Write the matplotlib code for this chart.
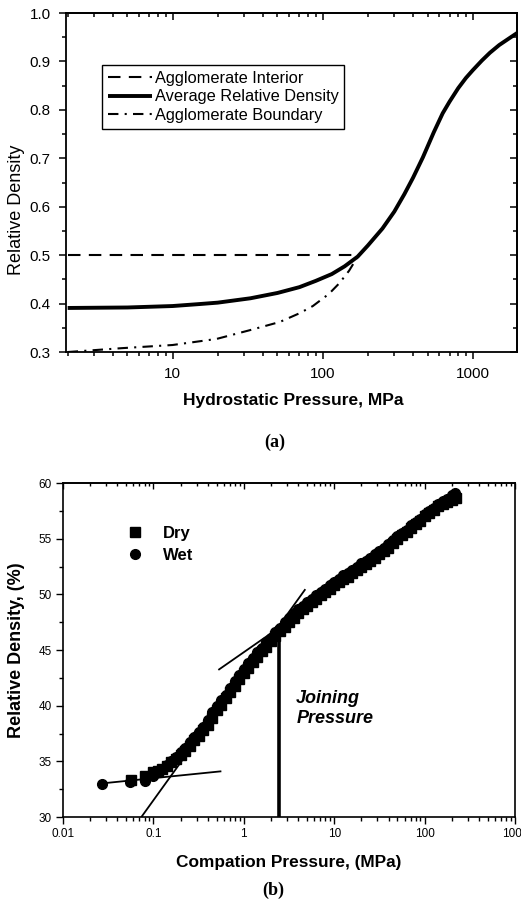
import numpy as np
import matplotlib
matplotlib.use("Agg")
import matplotlib.pyplot as plt
from matplotlib.ticker import LogLocator, MultipleLocator, FixedLocator, FixedFormatter, NullFormatter

plt.rcParams['font.family'] = ['Liberation Sans', 'DejaVu Sans']

# ---- (a) hydrostatic pressure vs relative density ----
avg_p = [2, 5, 10, 15, 20, 33, 50, 70, 90, 115, 140, 171, 200, 250, 300, 350,
         400, 465, 550, 630, 700, 800, 900, 1000, 1150, 1300, 1500, 1750, 2000]
avg_rd = [0.391, 0.392, 0.395, 0.399, 0.402, 0.411, 0.422, 0.434, 0.447, 0.461,
          0.477, 0.497, 0.520, 0.555, 0.590, 0.626, 0.660, 0.702, 0.754, 0.793,
          0.817, 0.845, 0.866, 0.882, 0.902, 0.918, 0.934, 0.948, 0.960]
interior_p = [2, 171]
interior_rd = [0.5, 0.5]
boundary_p = [2, 4.6, 10, 19.6, 32.6, 51.7, 70, 86, 110, 129, 150, 171]
boundary_rd = [0.300, 0.308, 0.3145, 0.327, 0.345, 0.362, 0.380, 0.395, 0.420,
               0.442, 0.468, 0.497]

# ---- (b) compaction pressure vs relative density ----
dry_p = [0.056, 0.08, 0.1, 0.112, 0.126, 0.141, 0.158, 0.178, 0.2, 0.224, 0.251,
         0.282, 0.316, 0.355, 0.398, 0.447, 0.501, 0.562, 0.631, 0.708, 0.794,
         0.891, 1.0, 1.12, 1.26, 1.41, 1.58, 1.78, 2.0, 2.24, 2.51, 2.82, 3.16,
         3.55, 3.98, 4.47, 5.01, 5.62, 6.31, 7.08, 7.94, 8.91, 10, 11.2, 12.6,
         14.1, 15.8, 17.8, 20, 22.4, 25.1, 28.2, 31.6, 35.5, 39.8, 44.7, 50.1,
         56.2, 63.1, 70.8, 79.4, 89.1, 100, 112, 126, 141, 158, 178, 200, 224]
dry_rd = [33.3, 33.7, 34.0, 34.1, 34.3, 34.6, 34.9, 35.2, 35.6, 35.9, 36.4,
          36.9, 37.3, 37.8, 38.3, 38.9, 39.6, 40.1, 40.7, 41.2, 41.8,
          42.4, 42.9, 43.4, 43.9, 44.4, 44.9, 45.3, 45.8, 46.3, 46.7, 47.1, 47.5,
          47.9, 48.3, 48.7, 49.0, 49.3, 49.6, 49.9, 50.2, 50.5, 50.8, 51.1, 51.4,
          51.6, 51.9, 52.2, 52.5, 52.7, 53.0, 53.3, 53.6, 53.9, 54.2, 54.6, 55.0,
          55.3, 55.6, 56.0, 56.3, 56.6, 57.0, 57.3, 57.6, 57.9, 58.1, 58.3, 58.5, 58.7]
wet_p = [0.027, 0.055, 0.08, 0.1, 0.112, 0.126, 0.141, 0.158, 0.178, 0.2, 0.224,
         0.251, 0.282, 0.316, 0.355, 0.398, 0.447, 0.501, 0.562, 0.631, 0.708,
         0.794, 0.891, 1.0, 1.12, 1.26, 1.41, 1.58, 1.78, 2.0, 2.24, 2.51, 2.82,
         3.16, 3.55, 3.98, 4.47, 5.01, 5.62, 6.31, 7.08, 7.94, 8.91, 10, 11.2,
         12.6, 14.1, 15.8, 17.8, 20, 22.4, 25.1, 28.2, 31.6, 35.5, 39.8, 44.7,
         50.1, 56.2, 63.1, 70.8, 79.4, 89.1, 100, 112, 126, 141, 158, 178, 200, 217]
wet_rd = [33.0, 33.15, 33.2, 33.7, 34.0, 34.3, 34.7, 35.0, 35.4, 35.8, 36.2,
          36.7, 37.2, 37.6, 38.1, 38.7, 39.4, 40.0, 40.5, 41.0, 41.6,
          42.2, 42.8, 43.3, 43.8, 44.3, 44.8, 45.2, 45.7, 46.1, 46.6, 47.0, 47.5,
          47.9, 48.3, 48.7, 49.0, 49.3, 49.6, 49.9, 50.2, 50.5, 50.8, 51.1, 51.4,
          51.7, 51.9, 52.2, 52.5, 52.8, 53.0, 53.3, 53.6, 53.9, 54.2, 54.5, 54.9,
          55.2, 55.5, 55.8, 56.2, 56.5, 56.8, 57.2, 57.5, 57.8, 58.1, 58.4, 58.6, 58.9, 59.1]

# tangent lines and joining pressure
flat_p, flat_rd = [0.0255, 0.552], [33.0, 34.1]
steep_p, steep_rd = [0.0736, 4.73], [30.0, 50.4]
upper_p, upper_rd = [0.533, 3.0], [43.26, 47.5]
join_p, join_rd = [2.46, 2.46], [30.0, 46.5]

b_ticks = [0.01, 0.1, 1, 10, 100, 1000]
b_ticklabels = ['0.01', '0.1', '1', '10', '100', '1000']

fig = plt.figure(figsize=(5.21, 9.08), dpi=100)

# ================= (a) =================
ax = fig.add_axes([0.1267, 0.6123, 0.8656, 0.3733])
ax.plot(interior_p, interior_rd, color='black', lw=1.5, ls=(0, (6, 4)),
        label='Agglomerate Interior')
ax.plot(avg_p, avg_rd, color='black', lw=2.8, solid_capstyle='butt',
        solid_joinstyle='round', label='Average Relative Density')
ax.plot(boundary_p, boundary_rd, color='black', lw=1.5, ls=(0, (5, 3, 1, 3)),
        label='Agglomerate Boundary')
ax.set_xscale('log')
ax.set_xlim(1.95, 1970)
ax.set_ylim(0.3, 1.0)
ax.yaxis.set_major_locator(MultipleLocator(0.1))
ax.yaxis.set_minor_locator(MultipleLocator(0.05))
ax.yaxis.set_major_formatter(plt.FuncFormatter(lambda v, p: f'{v:.1f}'))
ax.xaxis.set_major_locator(FixedLocator([10, 100, 1000]))
ax.xaxis.set_major_formatter(FixedFormatter(['10', '100', '1000']))
ax.xaxis.set_minor_locator(LogLocator(base=10, subs=np.arange(2, 10)))
ax.xaxis.set_minor_formatter(NullFormatter())
ax.tick_params(which='both', direction='out', labelsize=11, width=1.1)
ax.tick_params(which='major', length=5, pad=6)
ax.tick_params(which='minor', length=3)
for s in ax.spines.values():
    s.set_linewidth(1.3)
# mirrored inward ticks on top/right
axt = ax.secondary_xaxis('top')
axt.xaxis.set_major_locator(FixedLocator([10, 100, 1000]))
axt.xaxis.set_minor_locator(LogLocator(base=10, subs=np.arange(2, 10)))
axt.tick_params(which='both', direction='in', labeltop=False, width=1.1)
axt.tick_params(which='major', length=5)
axt.tick_params(which='minor', length=3)
axt.xaxis.set_minor_formatter(NullFormatter())
axt.spines['top'].set_linewidth(1.3)
axr = ax.secondary_yaxis('right')
axr.yaxis.set_major_locator(MultipleLocator(0.1))
axr.yaxis.set_minor_locator(MultipleLocator(0.05))
axr.tick_params(which='both', direction='in', labelright=False, width=1.1)
axr.tick_params(which='major', length=5)
axr.tick_params(which='minor', length=3)
axr.spines['right'].set_linewidth(1.3)

ax.set_ylabel('Relative Density', fontsize=13)
ax.yaxis.set_label_coords(-0.091, 0.42)
ax.set_xlabel('Hydrostatic Pressure, MPa', fontsize=12.5, fontweight='bold')
ax.xaxis.set_label_coords(0.503, -0.121)

leg = ax.legend(loc='upper left', bbox_to_anchor=(0.08, 0.847), borderaxespad=0,
                fontsize=11.8, frameon=True, fancybox=False, handlelength=2.7,
                handletextpad=0.15, labelspacing=0.22, borderpad=0.35)
leg.get_frame().set_edgecolor('black')
leg.get_frame().set_linewidth(1.0)
leg.get_frame().set_alpha(1)

fig.text(0.528, 1 - 442 / 908, '(a)', ha='center', va='center', fontsize=13,
         fontweight='bold', family=['Liberation Serif', 'DejaVu Serif'])

# ================= (b) =================
bx = fig.add_axes([0.1209, 0.1002, 0.8676, 0.3678])
bx.plot(dry_p, dry_rd, ls='none', marker='s', ms=6.5, color='black', label='Dry')
bx.plot(wet_p, wet_rd, ls='none', marker='o', ms=7, color='black', label='Wet')
bx.plot(flat_p, flat_rd, color='black', lw=1.3)
bx.plot(steep_p, steep_rd, color='black', lw=1.3)
bx.plot(upper_p, upper_rd, color='black', lw=1.3)
bx.plot(join_p, join_rd, color='black', lw=2.6, solid_capstyle='butt')
bx.set_xscale('log')
bx.set_xlim(0.01, 1000)
bx.set_ylim(30, 60)
bx.yaxis.set_major_locator(MultipleLocator(5))
bx.yaxis.set_minor_locator(MultipleLocator(2.5))
bx.xaxis.set_major_locator(FixedLocator(b_ticks))
bx.xaxis.set_major_formatter(FixedFormatter(b_ticklabels))
bx.xaxis.set_minor_locator(LogLocator(base=10, subs=np.arange(2, 10)))
bx.xaxis.set_minor_formatter(NullFormatter())
bx.tick_params(which='both', direction='out', labelsize=8.5, width=1.0)
bx.tick_params(which='major', length=5, pad=3)
bx.tick_params(which='minor', length=3)
for s in bx.spines.values():
    s.set_linewidth(1.2)
bxt = bx.secondary_xaxis('top')
bxt.xaxis.set_major_locator(FixedLocator(b_ticks))
bxt.xaxis.set_minor_locator(LogLocator(base=10, subs=np.arange(2, 10)))
bxt.xaxis.set_minor_formatter(NullFormatter())
bxt.tick_params(which='both', direction='in', labeltop=False, width=1.0)
bxt.tick_params(which='major', length=4)
bxt.tick_params(which='minor', length=2.5)
bxt.spines['top'].set_linewidth(1.2)

bx.set_ylabel('Relative Density, (%)', fontsize=13, fontweight='bold')
bx.yaxis.set_label_coords(-0.084, 0.5)
bx.set_xlabel('Compation Pressure, (MPa)', fontsize=12.4, fontweight='bold')
bx.xaxis.set_label_coords(0.5, -0.114)

bx.text(3.8, 39.75, 'Joining\nPressure', ha='left', va='center', fontsize=13,
        fontweight='bold', style='italic', linespacing=1.25)

bleg = bx.legend(loc='center left', bbox_to_anchor=(0.126, 0.816), frameon=False,
                 prop={'size': 12, 'weight': 'bold'}, handlelength=1.0,
                 handletextpad=1.2, labelspacing=0.4, borderpad=0.4,
                 borderaxespad=0)

fig.text(0.525, 1 - 890 / 908, '(b)', ha='center', va='center', fontsize=13,
         fontweight='bold', family=['Liberation Serif', 'DejaVu Serif'])

fig.savefig('out.png', dpi=100)
